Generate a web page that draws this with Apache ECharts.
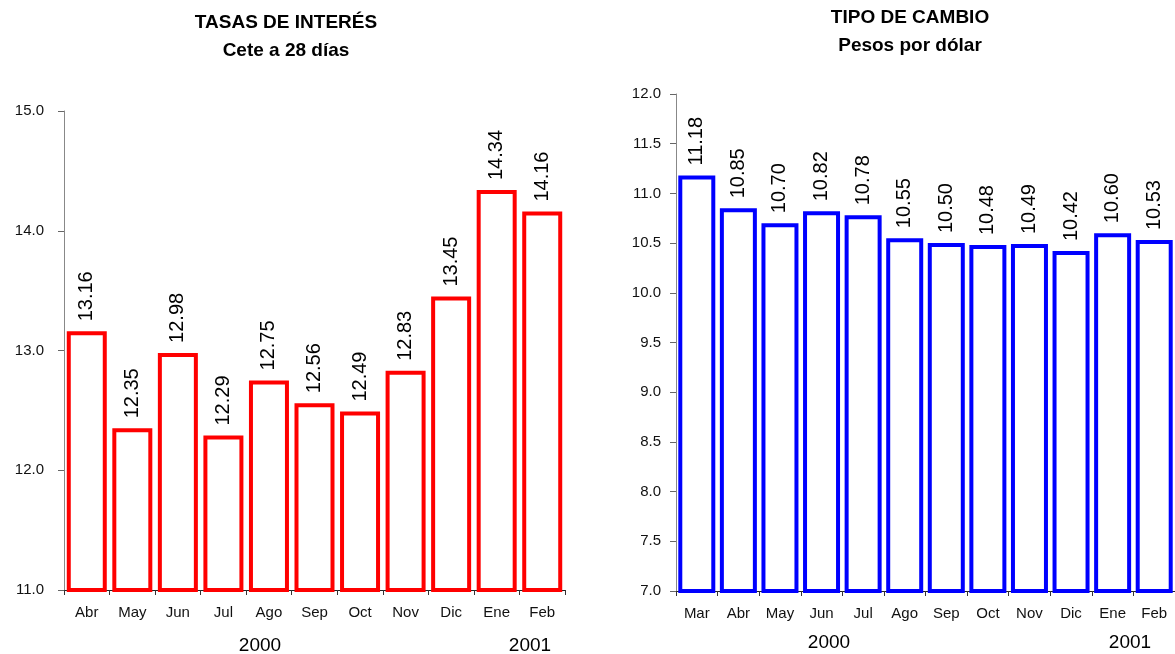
<!DOCTYPE html>
<html>
<head>
<meta charset="utf-8">
<script src="https://cdn.jsdelivr.net/npm/echarts@6/dist/echarts.min.js"></script>
<style>
  html, body { margin: 0; padding: 0; background: #fff; }
  #chart { width: 1175px; height: 654px; }
</style>
</head>
<body>
<div id="chart"></div>
<script>
// Tasas de interés: Cete a 28 días
const rateMonths = ['Abr', 'May', 'Jun', 'Jul', 'Ago', 'Sep', 'Oct', 'Nov', 'Dic', 'Ene', 'Feb'];
const rateValues = [13.16, 12.35, 12.98, 12.29, 12.75, 12.56, 12.49, 12.83, 13.45, 14.34, 14.16];

// Tipo de cambio: pesos por dólar
const fxMonths = ['Mar', 'Abr', 'May', 'Jun', 'Jul', 'Ago', 'Sep', 'Oct', 'Nov', 'Dic', 'Ene', 'Feb'];
const fxValues = [11.18, 10.85, 10.70, 10.82, 10.78, 10.55, 10.50, 10.48, 10.49, 10.42, 10.60, 10.53];

const yearLabels = ['2000', '2001'];

const FONT = "'Liberation Sans', Arial, sans-serif";

const chart = echarts.init(document.getElementById('chart'));

function xAxisFor(gridIndex, data) {
  return {
    type: 'category',
    gridIndex: gridIndex,
    data: data,
    boundaryGap: true,
    axisLine: { lineStyle: { color: '#222', width: 1 } },
    axisTick: { show: true, length: 5, lineStyle: { color: '#333' } },
    axisLabel: { color: '#111', fontFamily: FONT, fontSize: 15, margin: 15 },
    splitLine: { show: false }
  };
}

function yAxisFor(gridIndex, min, max, interval, margin) {
  return {
    type: 'value',
    gridIndex: gridIndex,
    min: min,
    max: max,
    interval: interval,
    axisLine: { show: true, lineStyle: { color: '#888', width: 1 } },
    axisTick: { show: true, length: 6, lineStyle: { color: '#666' } },
    axisLabel: {
      color: '#111', fontFamily: FONT, fontSize: 15, margin: margin,
      formatter: v => v.toFixed(1)
    },
    splitLine: { show: false }
  };
}

function barSeries(idx, values, color, width) {
  return {
    type: 'bar',
    xAxisIndex: idx,
    yAxisIndex: idx,
    data: values,
    barWidth: width,
    itemStyle: { color: '#fff', borderColor: color, borderWidth: 4 },
    label: {
      show: true,
      position: 'top',
      rotate: 90,
      align: 'left',
      verticalAlign: 'middle',
      distance: 10,
      color: '#000',
      fontFamily: FONT,
      fontSize: 20,
      formatter: p => p.value.toFixed(2)
    },
    emphasis: { disabled: true },
    animation: false
  };
}

const titleStyle = { fontFamily: FONT, fontSize: 19, fontWeight: 'bold', fill: '#000', align: 'center', verticalAlign: 'middle' };
const yearStyle = { fontFamily: FONT, fontSize: 19, fill: '#000', align: 'center', verticalAlign: 'middle' };

function text(x, y, str, style) {
  return { type: 'text', x: x, y: y, style: Object.assign({ text: str }, style) };
}

chart.setOption({
  animation: false,
  backgroundColor: '#fff',
  grid: [
    { left: 64, top: 111, width: 501, height: 479 },
    { left: 676, top: 94, width: 504, height: 497 }
  ],
  xAxis: [xAxisFor(0, rateMonths), xAxisFor(1, fxMonths)],
  yAxis: [yAxisFor(0, 11, 15, 1, 20), yAxisFor(1, 7, 12, 0.5, 15)],
  series: [
    barSeries(0, rateValues, '#ff0000', 40),
    barSeries(1, fxValues, '#0000ff', 37)
  ],
  graphic: [
    text(286, 23, 'TASAS DE INTERÉS', titleStyle),
    text(286, 51, 'Cete a 28 días', titleStyle),
    text(910, 18, 'TIPO DE CAMBIO', titleStyle),
    text(910, 46, 'Pesos por dólar', titleStyle),
    text(260, 646, yearLabels[0], yearStyle),
    text(530, 646, yearLabels[1], yearStyle),
    text(829, 643, yearLabels[0], yearStyle),
    text(1130, 643, yearLabels[1], yearStyle)
  ]
});
</script>
</body>
</html>
